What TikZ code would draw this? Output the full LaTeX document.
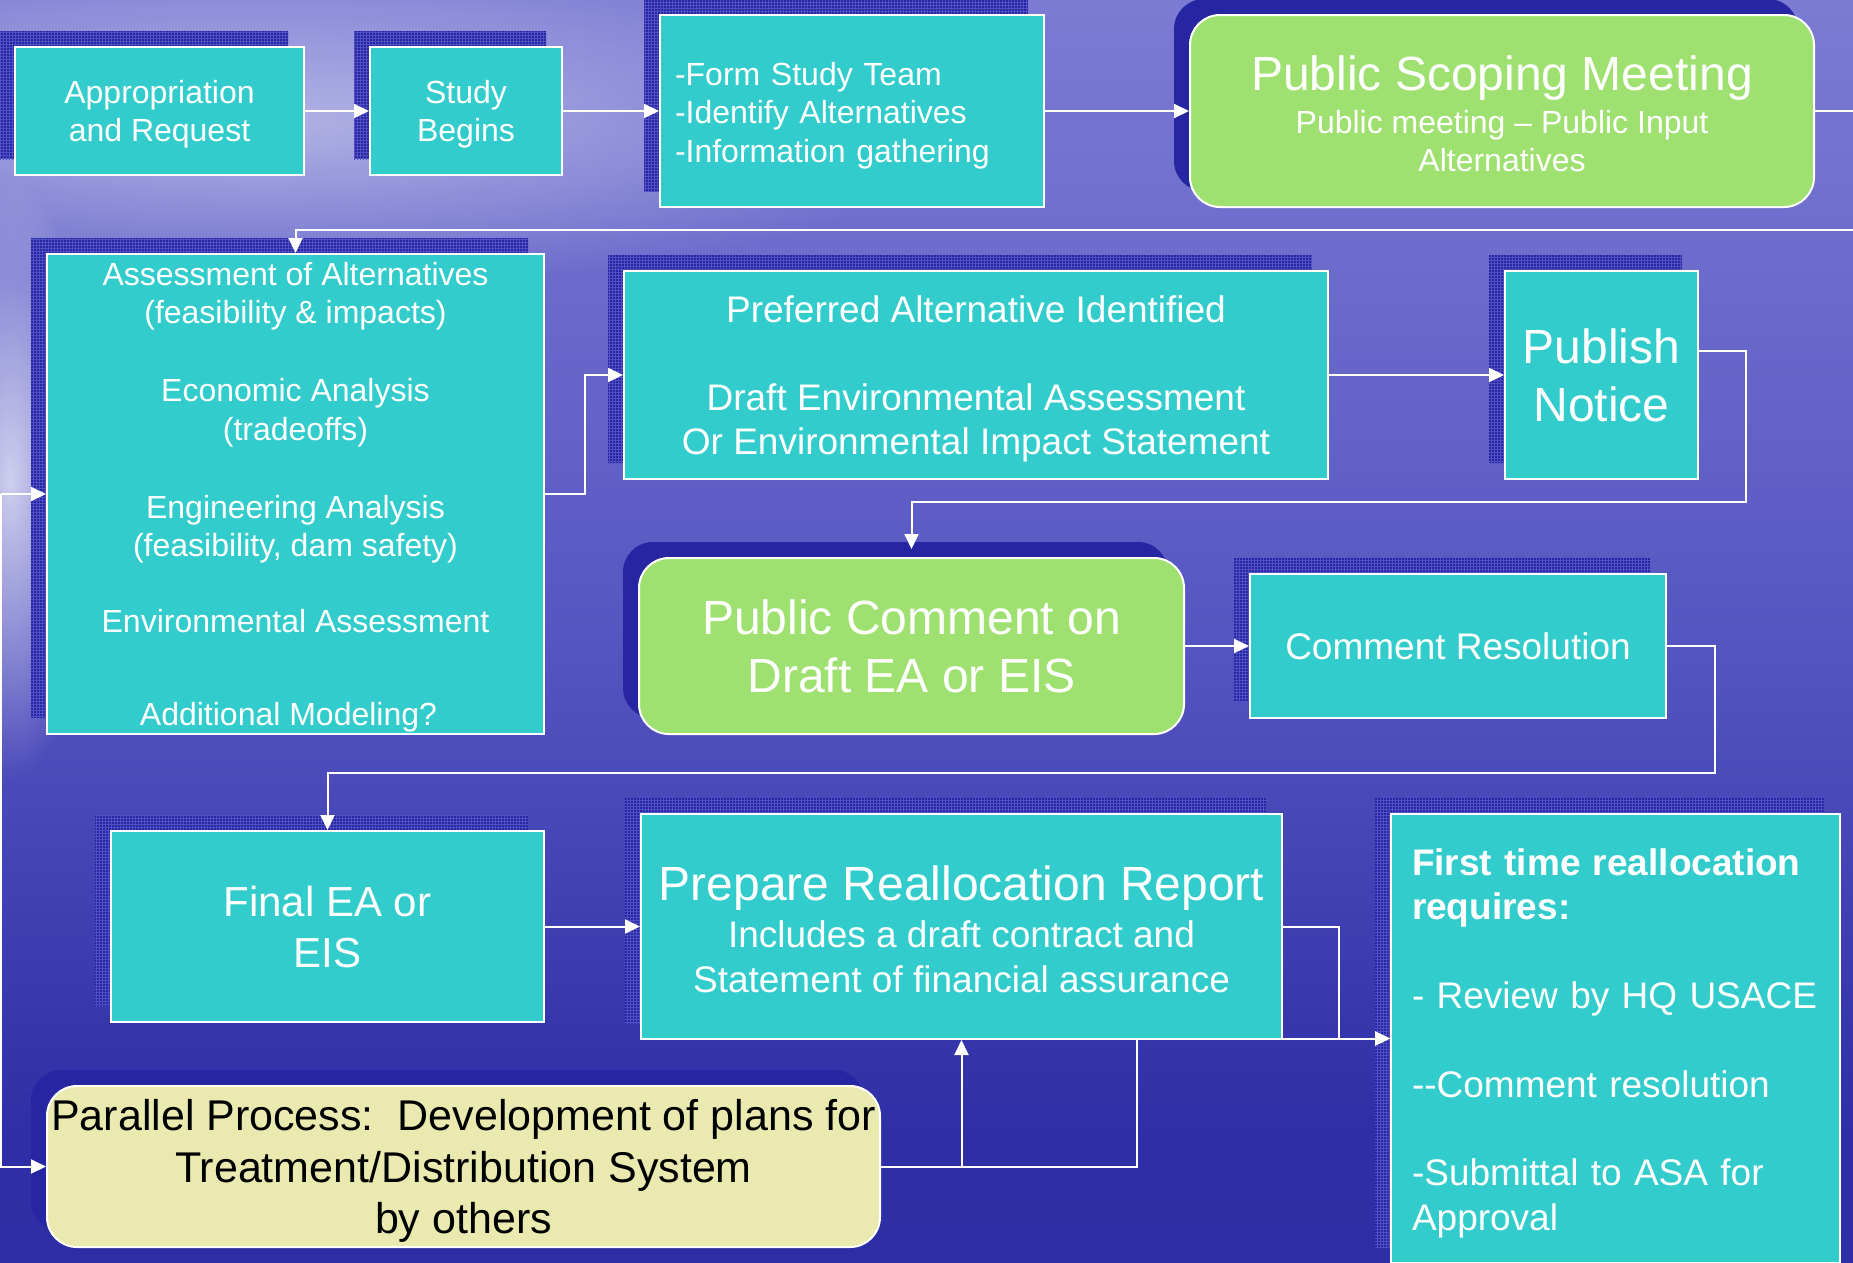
\documentclass[tikz,border=0pt]{standalone}
\usepackage{fontspec}
\setmainfont{Liberation Sans}
\usetikzlibrary{arrows.meta,positioning,shadows,fadings,patterns}

\definecolor{boxteal}{RGB}{51,204,204}
\definecolor{boxgreen}{RGB}{159,225,112}
\definecolor{boxyellow}{RGB}{234,234,176}
\definecolor{shadowblue}{RGB}{38,38,162}
\definecolor{gridblue}{RGB}{80,80,196}
\definecolor{skytop}{RGB}{165,165,226}
\definecolor{skylight}{RGB}{128,128,214}
\definecolor{skymid}{RGB}{86,86,194}
\definecolor{seablue}{RGB}{46,46,166}
\definecolor{seadeep}{RGB}{42,42,160}
\pgfdeclareverticalshading{sky}{100bp}{color(0bp)=(seadeep); color(30bp)=(seablue);
  color(50bp)=(skymid); color(78bp)=(skylight); color(100bp)=(skytop)}
\tikzfading[name=soft glow, inner color=transparent!0, outer color=transparent!100]

\begin{document}
\begin{tikzpicture}[x=1pt,y=-1pt,>={Triangle[length=15pt,width=14pt]},
        line width=2pt,
        base node/.style={draw=white,text=white,inner sep=0pt,align=center,text depth=0pt,
          drop shadow={shadow xshift=-16pt,shadow yshift=16pt,fill=shadowblue,opacity=1},
          font=\fontsize{32}{38.4}\selectfont},
        step node/.style={base node,fill=boxteal,
          general shadow={shadow xshift=-16pt,shadow yshift=16pt,pattern=grid,pattern color=gridblue}},
        public node/.style={base node,fill=boxgreen,rounded corners=30pt},
        parallel node/.style={base node,fill=boxyellow,rounded corners=30pt,text=black},
        link/.style={draw=white,->}]
        % background
        \useasboundingbox (0,0) rectangle (1853,1262);
        \shade[shading=sky] (0,0) rectangle (1853,1262);
        \fill[white,opacity=0.45,path fading=soft glow] (260,120) ellipse (720pt and 170pt);
        \fill[white,opacity=0.7,path fading=soft glow] (10,480) ellipse (90pt and 300pt);
        \clip (0,0) rectangle (1853,1262);

        % top row
        \node[step node, minimum width=289pt, minimum height=128pt] (1) at (159.5,111) {Appropriation\\and Request};
        \node[step node, minimum width=192pt, minimum height=128pt, right=64pt of 1] (2) {Study\\Begins};
        \node[step node, minimum width=384pt, minimum height=192pt, text width=354pt, align=left, text depth={},
              right=96pt of 2] (3) {\rule{0pt}{32pt}-Form Study Team\\-Identify Alternatives\\-Information gathering};
        \node[public node, minimum width=624pt, minimum height=192pt, right=144pt of 3] (4)
              {{\fontsize{48}{57.6}\selectfont\rule{0pt}{40pt}Public Scoping Meeting}\\[5pt]Public meeting – Public Input\\Alternatives};

        % middle rows
        \node[step node, minimum width=497pt, minimum height=480pt] (5) at (295.5,494)
              {Assessment of Alternatives\\(feasibility \& impacts)\\[39.6pt]Economic Analysis\\(tradeoffs)\\[39.6pt]%
               Engineering Analysis\\(feasibility, dam safety)\\[38pt]Environmental Assessment\\[54.6pt]%
               Additional Modeling?\hspace*{14pt}};
        \node[step node, minimum width=704pt, minimum height=208pt, font=\fontsize{37}{44.4}\selectfont] (6) at (976,375)
              {Preferred Alternative Identified\\[43.6pt]Draft Environmental Assessment\\Or Environmental Impact Statement};
        \node[step node, minimum width=193pt, minimum height=208pt, font=\fontsize{48}{58}\selectfont,
              right=175pt of 6] (7) {Publish\\Notice};
        \node[public node, minimum width=545pt, minimum height=176pt, font=\fontsize{48}{58}\selectfont] (8) at (911.5,646)
              {Public Comment on\\Draft EA or EIS};
        \node[step node, minimum width=416pt, minimum height=144pt, font=\fontsize{37}{44.4}\selectfont,
              right=64pt of 8] (9) {Comment Resolution};

        % bottom rows
        \node[step node, minimum width=433pt, minimum height=191pt, font=\fontsize{42}{51}\selectfont] (10) at (327.5,926.5)
              {Final EA or\\EIS};
        \node[step node, minimum width=641pt, minimum height=225pt, font=\fontsize{37}{45}\selectfont,
              right=95pt of 10] (11)
              {{\fontsize{48}{57.6}\selectfont\rule{0pt}{40pt}Prepare Reallocation Report}\\[2pt]Includes a draft contract and\\Statement of financial assurance};
        \node[parallel node, minimum width=833pt, minimum height=161pt, font=\fontsize{43}{51.6}\selectfont] (12) at (463.5,1166.5)
              {Parallel Process:~~Development of plans for\\Treatment/Distribution System\\by others};
        \node[step node, minimum width=449pt, minimum height=449pt, text width=407pt, align=left, text depth={},
              font=\fontsize{37}{44.4}\selectfont] (13) at (1615.5,1038.5)
              {\rule{0pt}{36pt}\textbf{First time reallocation}\\\textbf{requires:}\\[44.4pt]- Review by HQ USACE\\[44.4pt]%
               -{}-Comment resolution\\[44.4pt]-Submittal to ASA for\\Approval};

        % connectors
        \coordinate (e1) at (1870,111);
        \coordinate (e2) at (1870,230);
        \coordinate (lft) at (1,494);
        \path
        (1) edge[link] (2)
        (2) edge[link] (3)
        (3) edge[link] (4)
        (6) edge[link] (7)
        (10) edge[link] (11)
        (8.east) edge[link] (8.east -| 9.west)
        ;
        \draw[link] (4) -- (e1) -- (e2) -| (5);
        \draw[link] (5.east) -- ++(40,0) |- (6);
        \draw[link] ([yshift=24pt]7.east) -- ++(47,0) -- ++(0,151) -| ([yshift=8pt]8.north);
        \draw[link] (9.east) -- ++(48,0) -- ++(0,127) -| (10);
        \draw[link] (11.east) -- ++(56,0) |- (13);
        \draw[link] (12.east) -- ++(256,0) |- (13);
        \draw[link] (12) -| (11);
        \draw[link] (lft) -- (5);
        \draw[link] (lft) |- (12);
\end{tikzpicture}
\end{document}
